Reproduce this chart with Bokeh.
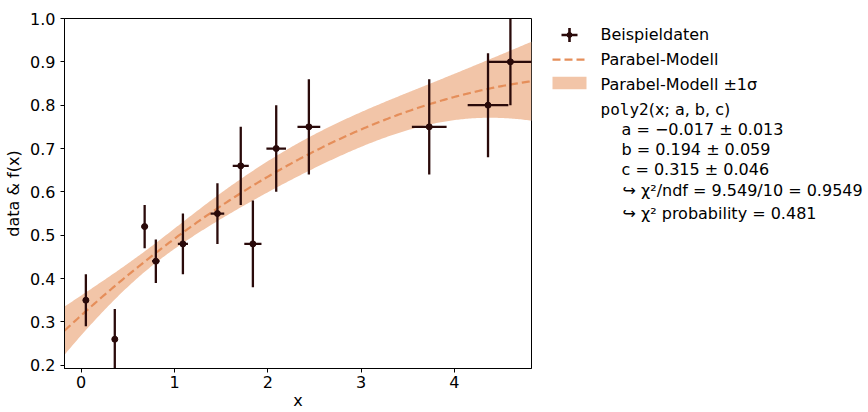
import numpy as np
from bokeh.plotting import figure
from bokeh.models import Range1d, FixedTicker, PrintfTickFormatter
from bokeh.layouts import row
from bokeh.embed import file_html
from bokeh.resources import INLINE
from bokeh.core.properties import value

# ---------------- data ----------------
x_data = [0.05, 0.36, 0.68, 0.80, 1.09, 1.46, 1.71, 1.84, 2.09, 2.44, 3.73, 4.36, 4.60]
y_data = [0.35, 0.26, 0.52, 0.44, 0.48, 0.55, 0.66, 0.48, 0.70, 0.75, 0.75, 0.80, 0.90]
x_err = [0.003, 0.018, 0.034, 0.040, 0.054, 0.073, 0.086, 0.092, 0.105, 0.122, 0.186, 0.218, 0.230]
y_err = [0.06, 0.07, 0.05, 0.05, 0.07, 0.07, 0.09, 0.10, 0.10, 0.11, 0.11, 0.12, 0.10]

params = [-0.017, 0.194, 0.315]        # a, b, c of poly2
param_errs = [0.013, 0.059, 0.046]

x_ticks = [0, 1, 2, 3, 4]
y_ticks = [0.2, 0.3, 0.4, 0.5, 0.6, 0.7, 0.8, 0.9, 1.0]
x_lo, x_hi = -0.179, 4.826
y_lo, y_hi = 0.1925, 1.0

legend_labels = ["Beispieldaten", "Parabel-Modell", "Parabel-Modell ±1σ"]
model_name = ["poly2", "(x; a, b, c)"]
fit_lines = ["a = −0.017 ± 0.013", "b = 0.194 ± 0.059", "c = 0.315 ± 0.046"]
chi2_lines = ["↪ χ²/ndf = 9.549/10 = 0.9549", "↪ χ² probability = 0.481"]

DATA_COLOR = "#2a0a0a"
MODEL_COLOR = "#e58e5a"
BAND_COLOR = "#f2c5a8"
FONT = "DejaVu Sans"
MONO = "DejaVu Sans Mono"
FS = "16px"

# ---------------- model and its 1 sigma band ----------------
xd = np.array(x_data)
yd = np.array(y_data)
xe = np.array(x_err)
ye = np.array(y_err)
pa = np.array(params)
pe = np.array(param_errs)

# parameter correlations from the data (weighted least squares), scaled to the quoted errors
slope = 2 * pa[0] * xd + pa[1]
sig_eff = np.sqrt(ye ** 2 + (slope * xe) ** 2)
A = np.column_stack([xd ** 2, xd, np.ones_like(xd)])
cov_d = np.linalg.inv(A.T @ (A / sig_eff[:, None] ** 2))
sd = np.sqrt(np.diag(cov_d))
corr = cov_d / np.outer(sd, sd)
cov = corr * np.outer(pe, pe)

xs = np.linspace(x_lo, x_hi, 300)
J = np.column_stack([xs ** 2, xs, np.ones_like(xs)])
f = J @ pa
sig = np.sqrt(np.einsum("ij,jk,ik->i", J, cov, J))

# ---------------- main plot ----------------
W_MAIN, H = 548, 412
B_TOP, B_BOT = 18, 43
p = figure(width=W_MAIN, height=H, x_range=Range1d(x_lo, x_hi), y_range=Range1d(y_lo, y_hi),
           output_backend="svg", toolbar_location=None,
           min_border_left=64, min_border_right=17, min_border_top=B_TOP, min_border_bottom=B_BOT)
p.xgrid.visible = False
p.ygrid.visible = False
p.outline_line_color = "black"
p.outline_line_width = 1
p.outline_line_alpha = 1
p.background_fill_color = "white"
p.border_fill_color = "white"

for ax in (p.xaxis[0], p.yaxis[0]):
    ax.major_tick_in = 0
    ax.major_tick_out = 4
    ax.minor_tick_in = 0
    ax.minor_tick_out = 0
    ax.major_tick_line_color = "black"
    ax.axis_line_color = "black"
    ax.major_label_text_font = FONT
    ax.major_label_text_font_size = FS
    ax.major_label_text_color = "black"
    ax.axis_label_text_font = FONT
    ax.axis_label_text_font_size = FS
    ax.axis_label_text_font_style = "normal"
    ax.axis_label_text_color = "black"
p.xaxis.major_label_standoff = 3
p.yaxis.major_label_standoff = 5

p.xaxis.ticker = FixedTicker(ticks=x_ticks)
p.yaxis.ticker = FixedTicker(ticks=y_ticks)
p.yaxis.formatter = PrintfTickFormatter(format="%.1f")
p.xaxis.axis_label = "x"
p.xaxis.axis_label_standoff = 0
p.yaxis.axis_label = "data & f(x)"
p.yaxis.axis_label_standoff = 4

p.varea(x=xs, y1=f - sig, y2=f + sig, fill_color=BAND_COLOR, fill_alpha=1)
p.line(xs, f, line_color=MODEL_COLOR, line_width=2.2, line_dash="8 4")
p.segment(x0=xd, y0=yd - ye, x1=xd, y1=yd + ye, line_color=DATA_COLOR, line_width=2.3)
p.segment(x0=xd - xe, y0=yd, x1=xd + xe, y1=yd, line_color=DATA_COLOR, line_width=2.3)
p.scatter(xd, yd, size=6, fill_color=DATA_COLOR, line_color=DATA_COLOR)

# ---------------- legend panel (data units = page pixels) ----------------
W_LEG = 868 - W_MAIN
lg = figure(width=W_LEG, height=H, x_range=Range1d(0, W_LEG), y_range=Range1d(H - B_BOT, B_TOP),
            x_axis_type=None, y_axis_type=None, output_backend="svg", toolbar_location=None,
            min_border_left=0, min_border_right=0, min_border_top=B_TOP, min_border_bottom=B_BOT)
lg.outline_line_color = None
lg.background_fill_color = "white"
lg.border_fill_color = "white"

lg.segment(x0=[13], y0=[34.5], x1=[29], y1=[34.5], line_color=DATA_COLOR, line_width=2.6)
lg.segment(x0=[21], y0=[27.5], x1=[21], y1=[41.5], line_color=DATA_COLOR, line_width=2.6)
lg.scatter([21], [34.5], size=5, fill_color=DATA_COLOR, line_color=DATA_COLOR)
lg.line([4, 38], [59.3, 59.3], line_color=MODEL_COLOR, line_width=2.2, line_dash="8 4")
lg.quad(left=[4], right=[38], top=[76.3], bottom=[89], fill_color=BAND_COLOR, line_color=None)

txt = dict(text_font=value(FONT), text_font_size=value(FS), text_color="black",
           text_baseline="middle", text_align="left")
lg.text(x=[52, 52, 52], y=[34, 59, 84], text=legend_labels, **txt)
lg.text(x=[52], y=[109], text=[model_name[0]], text_font=value(MONO), text_font_size=value(FS),
        text_color="black", text_baseline="middle", text_align="left")
lg.text(x=[100.2], y=[109], text=[model_name[1]], **txt)
lg.text(x=[73, 73, 73], y=[129, 149, 169], text=fit_lines, **txt)
lg.text(x=[74, 74], y=[190, 214], text=chi2_lines, **txt)

layout = row(p, lg)
open("out.html", "w").write(file_html(layout, INLINE))
